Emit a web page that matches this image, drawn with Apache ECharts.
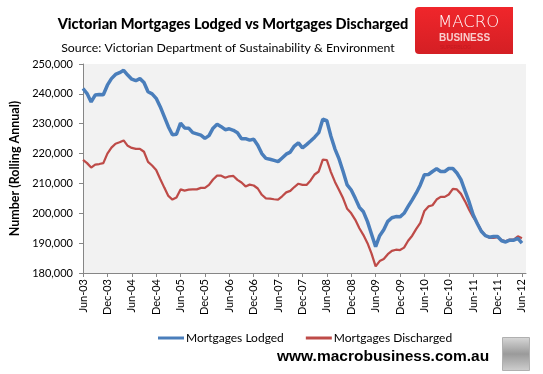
<!DOCTYPE html>
<html>
<head>
<meta charset="utf-8">
<script src="https://cdn.jsdelivr.net/npm/echarts@6/dist/echarts.min.js"></script>
<style>
html,body{margin:0;padding:0;background:#fff;}
#c{width:543px;height:374px;}
</style>
</head>
<body>
<div id="c"></div>
<script>
// Monthly labels Jun-03 .. Jun-12
var monthNames = ['Jan','Feb','Mar','Apr','May','Jun','Jul','Aug','Sep','Oct','Nov','Dec'];
var startYear = 2003, startMonth = 5, monthCount = 109;

// Mortgages lodged (thousands, rolling annual)
var lodged = [
241.8,240.1,237.3,239.6,239.8,239.7,242.9,245.1,246.5,247.1,
247.9,246.3,244.9,244.4,245.1,243.8,240.7,240.0,238.5,235.7,
232.4,229.0,226.3,226.5,230.2,228.6,228.5,227.0,226.6,226.2,
225.1,226.0,228.5,229.8,229.0,228.0,228.3,227.8,227.0,225.0,
225.0,224.5,224.8,222.8,220.0,218.4,218.1,217.7,217.3,218.5,
219.8,220.5,222.5,223.6,221.9,223.0,224.2,225.5,227.0,231.5,
231.0,225.8,221.5,218.2,214.0,209.5,207.8,205.0,202.0,200.5,
197.2,193.0,188.8,192.5,194.5,197.3,198.5,198.9,198.8,200.0,
202.3,204.5,206.8,209.5,212.9,213.0,214.0,214.9,214.0,214.0,
215.0,215.0,213.5,211.3,207.5,203.8,199.5,196.6,194.0,192.5,
192.0,192.2,192.2,190.8,190.4,191.0,191.0,191.6,190.0
];

// Mortgages discharged (thousands, rolling annual)
var discharged = [
217.9,216.8,215.3,216.3,216.5,216.8,220.0,222.0,223.3,223.8,
224.4,222.6,221.9,221.6,221.6,220.6,217.2,216.0,214.5,211.5,
208.6,205.8,204.6,205.3,208.0,207.6,207.9,208.0,208.0,208.5,
208.5,209.5,211.3,212.6,212.6,211.9,212.4,212.5,211.2,210.3,
209.0,209.6,209.3,208.3,206.2,205.0,204.9,204.7,204.6,205.7,
207.0,207.5,208.8,209.9,209.5,209.5,211.0,213.0,214.0,218.0,
217.8,213.8,210.5,207.8,205.0,201.5,200.0,197.8,195.0,192.7,
190.0,186.5,182.2,184.0,184.7,186.3,187.4,187.8,187.7,188.5,
190.8,192.5,194.8,196.8,200.8,202.3,202.7,204.6,205.5,205.5,
206.3,208.2,208.0,206.5,204.0,201.2,198.7,196.8,194.2,192.6,
191.8,191.8,192.0,191.0,190.6,191.2,191.2,192.3,191.6
];

var yMin = 180000, yMax = 250000, yStep = 10000;

var categories = [];
for (var k = 0; k < monthCount; k++) {
  var m = (startMonth + k) % 12;
  var y = startYear + Math.floor((startMonth + k) / 12);
  categories.push(monthNames[m] + '-' + String(y % 100).padStart(2, '0'));
}

function fmt(v){ return String(v).replace(/\B(?=(\d{3})+(?!\d))/g, ','); }

var chart = echarts.init(document.getElementById('c'), null, {renderer:'canvas'});
var FONT = 'Lato, "Liberation Sans", sans-serif';

chart.setOption({
  backgroundColor: '#ffffff',
  animation: false,
  textStyle: {fontFamily: FONT},
  title: [
    {text: 'Victorian Mortgages Lodged vs Mortgages Discharged', left: 228, top: 12, textAlign: 'center',
     textStyle: {fontFamily: FONT, fontWeight: 900, fontSize: 14.5, color: '#000'}},
    {text: 'Source: Victorian Department of Sustainability & Environment', left: 223, top: 37, textAlign: 'center',
     textStyle: {fontFamily: FONT, fontWeight: 'normal', fontSize: 12.3, color: '#000'}}
  ],
  grid: {left: 80, right: 17, top: 64, bottom: 101, show: true, backgroundColor: '#f2f2f2', borderWidth: 0},
  legend: {
    left: 153, top: 327, itemWidth: 26, itemHeight: 3, itemGap: 22,
    icon: 'rect',
    textStyle: {fontFamily: FONT, fontSize: 12, color: '#000', padding: [0,0,0,-3]},
    data: ['Mortgages Lodged', 'Mortgages Discharged']
  },
  xAxis: {
    type: 'category', data: categories, boundaryGap: false, max: monthCount,
    axisLine: {lineStyle: {color: '#868686', width: 1}},
    axisTick: {show: true, interval: 5, length: 4, lineStyle: {color: '#868686'}},
    axisLabel: {interval: 5, rotate: 90, fontFamily: FONT, fontSize: 11, color: '#000', margin: 6},
    splitLine: {show: false}
  },
  yAxis: {
    type: 'value', min: yMin, max: yMax, interval: yStep,
    name: 'Number (Rolling Annual)', nameLocation: 'middle', nameGap: 62, nameRotate: 90,
    nameTextStyle: {fontFamily: FONT, fontWeight: 'bold', fontSize: 12.5, color: '#000'},
    axisLine: {show: true, lineStyle: {color: '#868686', width: 1}},
    axisTick: {show: true, inside: false, length: 4, lineStyle: {color: '#868686'}},
    axisLabel: {formatter: function(v){return fmt(v);}, fontFamily: FONT, fontSize: 11, color: '#000', margin: 10},
    splitLine: {show: false}
  },
  series: [
    {name: 'Mortgages Lodged', type: 'line', showSymbol: false, symbol: 'none',
     data: lodged.map(function(v){return Math.round(v*1000);}),
     lineStyle: {color: '#4a7ebb', width: 3.5}, itemStyle: {color: '#4a7ebb'}, z: 3},
    {name: 'Mortgages Discharged', type: 'line', showSymbol: false, symbol: 'none',
     data: discharged.map(function(v){return Math.round(v*1000);}),
     lineStyle: {color: '#be4b48', width: 2.25}, itemStyle: {color: '#be4b48'}, z: 2}
  ],
  graphic: [
    {type: 'rect', left: 415, top: 7, shape: {width: 98, height: 47, r: [4,0,0,4]},
     style: {fill: new echarts.graphic.LinearGradient(0,0,0,1,[{offset:0,color:'#f0262b'},{offset:1,color:'#d41f24'}])}},
    {type: 'text', left: 438, top: 14, style: {text: 'MACRO', fill: '#ffffff', font: '300 16.5px "DejaVu Sans", sans-serif'}},
    {type: 'text', left: 439, top: 33, style: {text: 'BUSINESS', fill: '#f9cfcf', font: 'bold 10px "Liberation Sans", sans-serif'}},
    {type: 'text', left: 440, top: 45, style: {text: 'SUPERBLOG', fill: '#c41a1f', font: '5px "Liberation Sans", sans-serif'}},
    {type: 'text', left: 277, top: 349, style: {text: 'www.macrobusiness.com.au', fill: '#000', font: 'bold 15.5px "Liberation Sans", sans-serif'}},
    {type: 'rect', left: 502, top: 337, shape: {width: 27, height: 33},
     style: {fill: new echarts.graphic.LinearGradient(0,0,0,1,[{offset:0,color:'#d8d8d8'},{offset:0.5,color:'#9a9a9a'},{offset:1,color:'#cfcfcf'}]), stroke: '#b0b0b0', lineWidth: 1}}
  ]
});
</script>
</body>
</html>
